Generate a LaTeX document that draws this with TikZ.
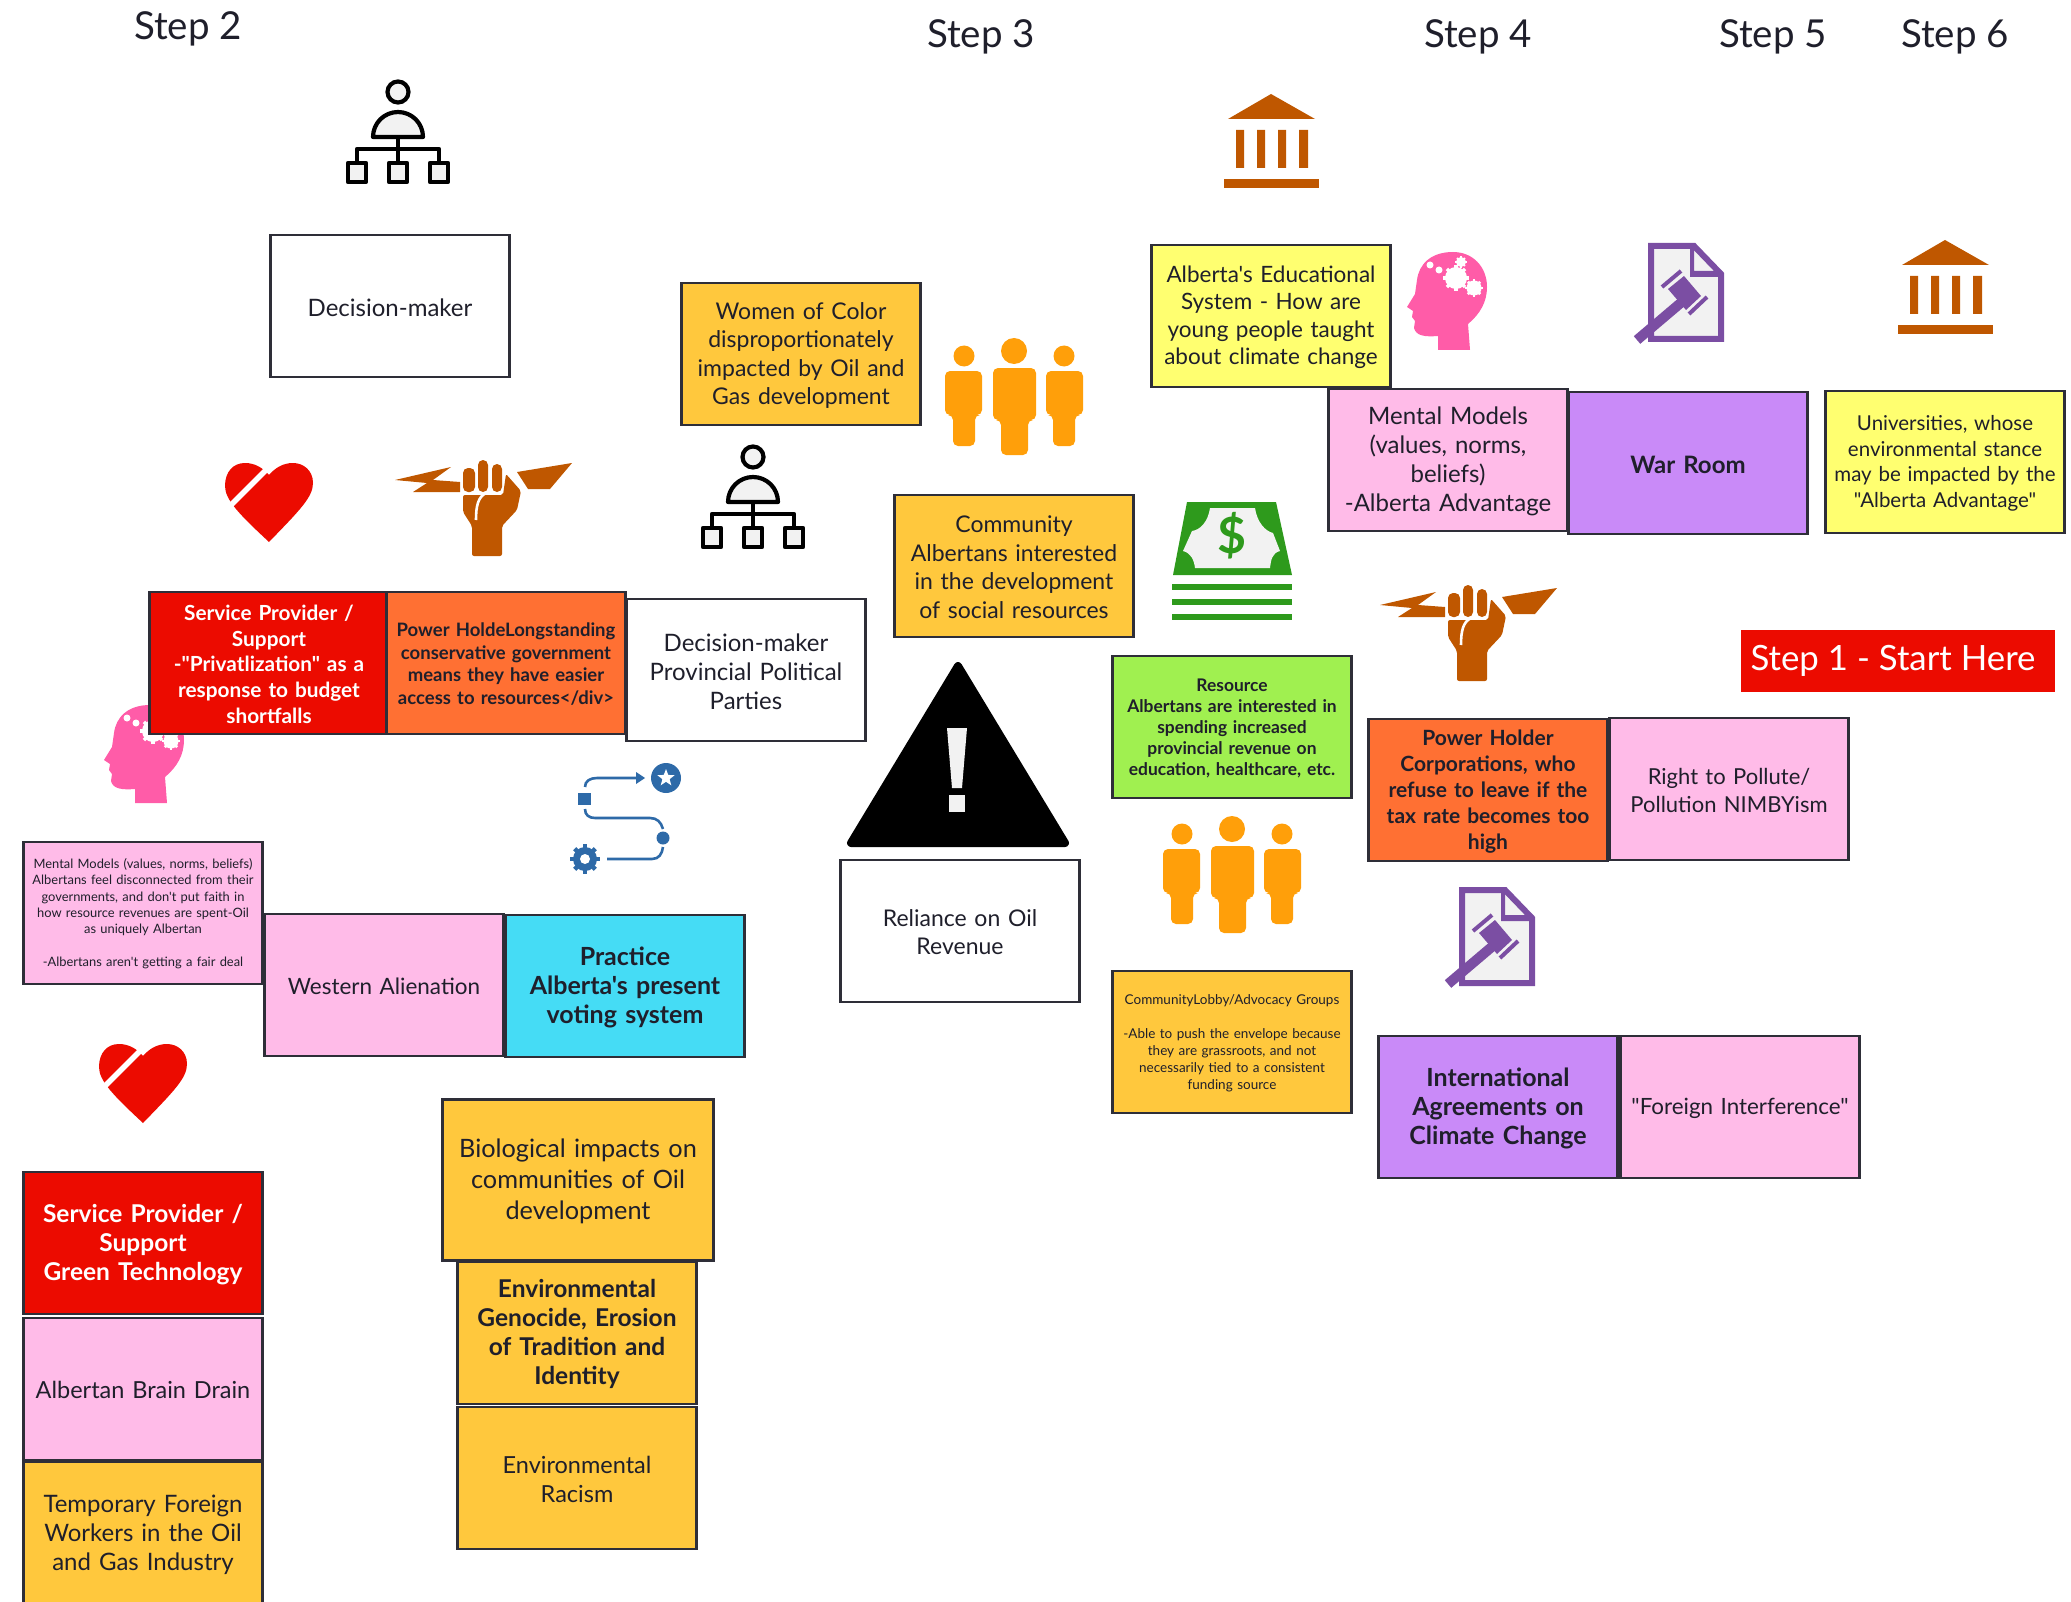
\documentclass[tikz,border=0pt]{standalone}
\usepackage{fontspec}
\setmainfont{Lato}[Ligatures=TeXOff]
\definecolor{inkc}{HTML}{1F1F2B}
\definecolor{edgec}{HTML}{2E2E38}
\definecolor{pinkc}{HTML}{FFBBE8}
\definecolor{ambc}{HTML}{FFC83D}
\definecolor{yelc}{HTML}{FFFF70}
\definecolor{purc}{HTML}{C98AF8}
\definecolor{redc}{HTML}{EC0B00}
\definecolor{oranc}{HTML}{FF7033}
\definecolor{cyanc}{HTML}{45DCF5}
\definecolor{limec}{HTML}{A0F050}
\definecolor{brownc}{HTML}{BF5700}
\definecolor{headc}{HTML}{FF5CA8}
\definecolor{grnc}{HTML}{2E9A1C}
\definecolor{folkc}{HTML}{FF9F0A}
\definecolor{bluec}{HTML}{2E6AA8}
\definecolor{violc}{HTML}{7B4EA3}
\definecolor{paperc}{HTML}{F2F2F2}
\newcommand{\fsz}[2]{\fontsize{#1}{#2}\selectfont}
\newcommand{\cogat}[5]{%
  \fill[#4] (#1,#2) circle (#3pt);
  \foreach \a in {0,45,...,315}{\draw[#4,line width=#5pt] (#1,#2) ++(\a:#3-1) -- ++(\a:#5*0.8);}
}
\tikzset{
  x=1pt,y=-1pt,
  card/.style={draw=edgec,line width=2.4pt,align=center,text=inkc,inner sep=0pt,
    minimum width=239pt,minimum height=142pt,text width=236pt,
    execute at begin node={\hyphenpenalty=10000\exhyphenpenalty=10000\rule{0pt}{0.85em}}},
  plain/.style={card,fill=white},
  pinkcard/.style={card,fill=pinkc},
  ambcard/.style={card,fill=ambc},
  yelcard/.style={card,fill=yelc},
  purcard/.style={card,fill=purc},
  redcard/.style={card,fill=redc,text=white},
  orcard/.style={card,fill=oranc},
  steplabel/.style={text=inkc,font=\fsz{38.5}{42},inner sep=0pt},
  orgicon/.pic={
    \begin{scope}[draw=black,line width=4.2pt,fill=paperc,line join=round]
      \filldraw (398,92) circle (10.5pt);
      \filldraw (373,137) arc[start angle=180,end angle=0,x radius=25,y radius=-25] -- cycle;
      \draw (398,137) -- (398,164);
      \draw (357,164) -- (357,149) -- (439,149) -- (439,164);
      \filldraw (348,163) rectangle (366,182);
      \filldraw (389,163) rectangle (407,182);
      \filldraw (430,163) rectangle (448,182);
    \end{scope}
  },
  hearticon/.pic={
    \fill[redc] (269,542) .. controls (300,510) and (313,497) .. (313,483)
      .. controls (313,470) and (303,463) .. (293,463)
      .. controls (283,463) and (275,468) .. (269,475)
      .. controls (263,468) and (255,463) .. (245,463)
      .. controls (233,463) and (225,472) .. (225,486)
      .. controls (225,500) and (240,515) .. (269,542) -- cycle;
    \draw[white,line width=5.5pt] (270,466) -- (227,509);
  },
  fisticon/.pic={
    \fill[brownc] (395,480) -- (451,467) -- (433,480) -- (460,482) -- (460,492) -- (413,492) -- (427,483) -- cycle;
    \fill[brownc] (517,472) -- (572,463) -- (550,489) -- (528,489) -- cycle;
    \fill[brownc,rounded corners=5pt] (463,468) rectangle (475,492);
    \fill[brownc,rounded corners=5pt] (478,460) rectangle (488,492);
    \fill[brownc,rounded corners=5pt] (492,464) rectangle (502,492);
    \fill[brownc,rounded corners=2pt] (463,495) -- (503,495) -- (506,474) -- (521,491) -- (517,510) -- (502,526) -- (502,556) -- (472,556) -- (472,526) -- (463,512) -- cycle;
    \draw[white,line width=2.6pt] (486,493) .. controls (478,497) and (476,506) .. (476,520);
  },
  headicon/.pic={
    \fill[headc] (63,98) -- (61,72) .. controls (73,62) and (80,50) .. (80,35)
      .. controls (80,15) and (66,0) .. (46,0)
      .. controls (24,0) and (12,12) .. (10,28)
      -- (8,42) -- (0,55) -- (6,59) -- (5,65) -- (8,69) -- (7,76)
      .. controls (9,84) and (18,85) .. (31,84) -- (31,98) -- cycle;
    \cogat{49}{26}{11}{white}{3.5}
    \cogat{67}{36}{7.5}{white}{2.8}
    \cogat{54}{10}{5}{white}{2}
    \fill[white] (23,13) circle (3.5pt) (32,18) circle (3.5pt);
  },
  lawicon/.pic={
    \filldraw[draw=violc,fill=paperc,line width=6pt,line join=miter] (3,3) -- (46,3) -- (73,31) -- (73,96) -- (3,96) -- cycle;
    \fill[violc] (42,3) -- (46,3) -- (46,28) -- (73,28) -- (73,34) -- (42,34) -- cycle;
    \draw[violc,line width=10pt] (-11,97) -- (35,58);
    \fill[violc] (20,46) -- (36,33) -- (53,53) -- (38,67) -- cycle;
    \draw[violc,line width=4pt] (14,44) -- (33,28) (41,71) -- (59,54);
  },
  bankicon/.pic={
    \fill[brownc] (1271,94) -- (1315,119) -- (1228,119) -- cycle;
    \fill[brownc] (1236,130) rectangle (1244,168) (1257,130) rectangle (1265,168) (1278,130) rectangle (1286,168) (1299,130) rectangle (1308,168);
    \fill[brownc] (1224,179) rectangle (1319,188);
  },
  folkicon/.pic={
    \fill[folkc] (1232,829) circle (13pt) (1182,834) circle (10.5pt) (1282,834) circle (10.5pt);
    \fill[folkc,rounded corners=5pt] (1211,846) -- (1254,846) -- (1254,898) -- (1246,898) -- (1246,933) -- (1219,933) -- (1219,898) -- (1211,898) -- cycle;
    \fill[folkc,rounded corners=5pt] (1163,849) -- (1200,849) -- (1200,893) -- (1193,893) -- (1193,924) -- (1171,924) -- (1171,893) -- (1163,893) -- cycle;
    \fill[folkc,rounded corners=5pt] (1264,849) -- (1301,849) -- (1301,893) -- (1293,893) -- (1293,924) -- (1271,924) -- (1271,893) -- (1264,893) -- cycle;
  }
}
\begin{document}
\begin{tikzpicture}
\useasboundingbox (0,0) rectangle (2071,1602);
% icons
\pic at (0,0) {orgicon};
\pic at (355,365) {orgicon};
\pic at (0,0) {hearticon};
\pic at (-126,581) {hearticon};
\pic at (0,0) {fisticon};
\pic at (985,125) {fisticon};
\pic at (104,705) {headicon};
\pic at (1407,252) {headicon};
\pic at (1648,243) {lawicon};
\pic at (1459,887) {lawicon};
\pic at (0,0) {bankicon};
\pic at (674,146) {bankicon};
\pic at (0,0) {folkicon};
\pic at (-218,-478) {folkicon};
% money
\fill[grnc] (1187,502) -- (1276,502) -- (1292,575) -- (1173,575) -- cycle;
\fill[paperc] (1210,508) -- (1255,508) .. controls (1257,522) and (1265,531) .. (1273,533) -- (1280,551) .. controls (1272,553) and (1271,560) .. (1270,568) -- (1195,568) .. controls (1194,560) and (1191,553) .. (1183,551) -- (1192,531) .. controls (1200,530) and (1208,522) .. (1210,508) -- cycle;
\node[text=grnc,font=\bfseries\fsz{50}{50},inner sep=0pt] (dollar) at (1232,536) {\$};
\draw[grnc,line width=5.5pt] (1172,587) -- (1292,587) (1172,602) -- (1292,602) (1172,617) -- (1292,617);
% warning
\filldraw[black,line width=8pt,line join=round] (958,666) -- (1065,843) -- (851,843) -- cycle;
\fill[paperc] (947,728) -- (967,728) -- (962,788) -- (952,788) -- cycle;
\fill[paperc] (949,795) rectangle (965,812);
% process
\begin{scope}[bluec,line width=2.6pt]
  \fill (666,778) circle (15pt);
  \fill[white,shift={(666,778)}] (-90:9)--(-54:3.8)--(-18:9)--(18:3.8)--(54:9)--(90:3.8)--(126:9)--(162:3.8)--(198:9)--(234:3.8)--cycle;
  \draw (585,787) .. controls (585,781) and (590,778) .. (597,778) -- (636,778);
  \fill (636,772) -- (645,778) -- (636,784) -- cycle;
  \fill (578,793) rectangle (591,805);
  \draw (585,809) .. controls (585,815) and (589,818) .. (595,818) -- (650,818) .. controls (657,818) and (661,822) .. (663,829);
  \fill (663,838) circle (6.5pt);
  \draw (663,847) .. controls (662,854) and (659,859) .. (652,859) -- (607,859);
  \cogat{585}{859}{12}{bluec}{4.5}
  \fill[white] (585,859) circle (5pt);
\end{scope}
% labels
\node[steplabel] (s2) at (188,29) {Step 2};
\node[steplabel] (s3) at (981,37) {Step 3};
\node[steplabel] (s4) at (1478,37) {Step 4};
\node[steplabel] (s5) at (1773,37) {Step 5};
\node[steplabel] (s6) at (1955,37) {Step 6};
\node[fill=redc,text=white,minimum width=314pt,minimum height=62pt,inner sep=0pt,font=\fsz{34.8}{38}] (s1) at (1898,661) {Step 1 - Start Here\hspace*{10pt}};
% cards
\node[plain,font=\fsz{24}{29}] (dm) at (390,306) {Decision-maker};
\node[ambcard,font=\fsz{23}{28.5}] (women) at (801,354) {Women of Color\\disproportionately\\impacted by Oil and\\Gas development};
\node[ambcard,font=\fsz{23}{28.5}] (commalb) at (1014,566) {Community\\Albertans interested\\in the development\\of social resources};
\node[yelcard,font=\fsz{22.5}{27.3}] (edu) at (1271,316) {Alberta's Educational\\System - How are\\young people taught\\about climate change};
\node[pinkcard,font=\fsz{24}{29}] (mm) at (1448,460) {Mental Models\\(values, norms,\\beliefs)\\-Alberta Advantage};
\node[purcard,font=\bfseries\fsz{24}{29}] (war) at (1688,463) {War Room};
\node[yelcard,font=\fsz{20.5}{25.5}] (uni) at (1945,462) {Universities, whose\\environmental stance\\may be impacted by the\\"Alberta Advantage"};
\node[redcard,font=\bfseries\fsz{20.8}{25.7}] (sp1) at (269,663) {Service Provider /\\Support\\-"Privatlization" as a\\response to budget\\shortfalls};
\node[orcard,font=\bfseries\fsz{18.5}{22.5}] (ph1) at (506,663) {Power HoldeLongstanding\\conservative government\\means they have easier\\access to resources</div>};
\node[plain,font=\fsz{24}{29}] (dm2) at (746,670) {Decision-maker\\Provincial Political\\Parties};
\node[card,fill=limec,font=\bfseries\fsz{17.4}{21}] (res) at (1232,727) {Resource\\Albertans are interested in\\spending increased\\provincial revenue on\\education, healthcare, etc.};
\node[orcard,font=\bfseries\fsz{21}{26}] (ph2) at (1488,790) {Power Holder\\Corporations, who\\refuse to leave if the\\tax rate becomes too\\high};
\node[pinkcard,font=\fsz{22}{28}] (pol) at (1729,789) {Right to Pollute/\\Pollution NIMBYism};
\node[ambcard,font=\fsz{13.5}{17}] (lobby) at (1232,1042) {CommunityLobby/Advocacy Groups\\[17pt]-Able to push the envelope because\\they are grassroots, and not\\necessarily tied to a consistent\\funding source};
\node[purcard,font=\bfseries\fsz{25}{29}] (intl) at (1498,1107) {International\\Agreements on\\Climate Change};
\node[pinkcard,font=\fsz{22.4}{29}] (foreign) at (1740,1107) {"Foreign Interference"};
\node[plain,font=\fsz{23}{28}] (rel) at (960,931) {Reliance on Oil\\Revenue\hspace*{0pt}};
\node[card,fill=cyanc,font=\bfseries\fsz{25}{29}] (prac) at (625,986) {Practice\\Alberta's present\\voting system};
\node[pinkcard,font=\fsz{22.5}{29}] (west) at (384,985) {Western Alienation};
\node[pinkcard,font=\fsz{12.9}{16.3}] (mm2) at (143,913) {Mental Models (values, norms, beliefs)\\Albertans feel disconnected from their\\governments, and don't put faith in\\how resource revenues are spent-Oil\\as uniquely Albertan\\[16pt]-Albertans aren't getting a fair deal};
\node[ambcard,minimum width=271pt,minimum height=161pt,text width=265pt,font=\fsz{25.3}{31}] (bio) at (578,1180) {Biological impacts on\\communities of Oil\\development};
\node[ambcard,font=\bfseries\fsz{24.5}{29}] (geno) at (577,1333) {Environmental\\Genocide, Erosion\\of Tradition and\\Identity};
\node[ambcard,font=\fsz{23.5}{29}] (rac) at (577,1478) {Environmental\\Racism};
\node[redcard,font=\bfseries\fsz{24.5}{29}] (sp2) at (143,1243) {Service Provider /\\Support\\Green Technology};
\node[pinkcard,font=\fsz{23.5}{29}] (drain) at (143,1389) {Albertan Brain Drain};
\node[ambcard,font=\fsz{24}{29}] (tfw) at (143,1533) {Temporary Foreign\\Workers in the Oil\\and Gas Industry};
\end{tikzpicture}
\end{document}
